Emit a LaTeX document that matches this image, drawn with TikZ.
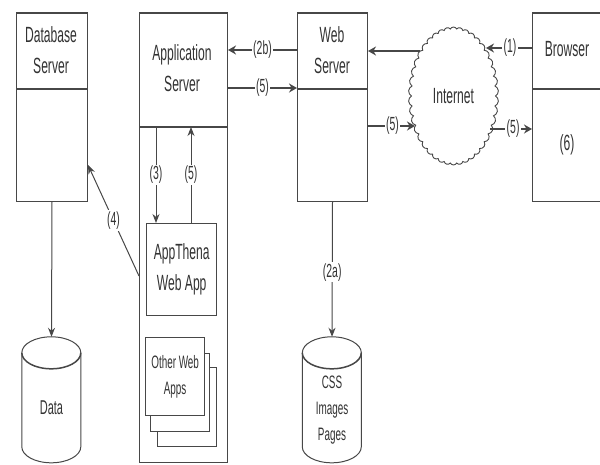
\documentclass[tikz,border=0pt]{standalone}
\usepackage{fontspec}
\setmainfont[FakeStretch=0.55]{Liberation Sans}
\usetikzlibrary{arrows.meta,shapes.symbols}
\colorlet{ink}{black!72}
\newcommand{\fbig}{\fontsize{22}{31}\selectfont}
\newcommand{\flab}{\fontsize{19}{20}\selectfont}
\newcommand{\fsml}{\fontsize{18}{26}\selectfont}
\newcommand{\storeshape}[1]{%
  \draw[draw=ink,line width=1pt,fill=white] (#1.north west) ++(0,16)
    arc[start angle=180,end angle=0,x radius=29.5pt,y radius=16pt]
    -- ++(0,94)
    arc[start angle=0,end angle=-180,x radius=29.5pt,y radius=16pt]
    -- cycle;
  \draw[draw=ink,line width=1.5pt] (#1.north west) ++(0,16)
    arc[start angle=180,end angle=360,x radius=29.5pt,y radius=16pt];
}
\tikzset{
  box/.style={draw=ink,line width=1pt,fill=white,inner sep=0pt,anchor=north west},
  bar/.style={draw=ink,line width=2pt},
  stor/.style={inner sep=0pt,minimum width=59pt,minimum height=126pt},
  conn/.style={draw=ink,line width=1pt,-{Stealth[length=9pt,width=7pt]}},
  heavy/.style={draw=ink,line width=2pt,-{Stealth[length=8pt,width=9pt]}},
  lab/.style={fill=white,inner sep=1.5pt,font=\flab},
  title/.style={align=center,font=\fbig},
}
\begin{document}
\begin{tikzpicture}[x=1pt,y=-1pt,text=black!80]
\clip (0,0) rectangle (600,464);
% servers
\node[box,minimum width=71pt,minimum height=75pt] (dbhead) at (16,13) {};
\node[box,minimum width=71pt,minimum height=113pt] (dbbody) at (16,88) {};
\node[box,minimum width=88pt,minimum height=113pt] (apphead) at (139,13) {};
\node[box,minimum width=88pt,minimum height=336pt] (appbody) at (139,126) {};
\node[box,minimum width=70pt,minimum height=75pt] (webhead) at (297,13) {};
\node[box,minimum width=70pt,minimum height=113pt] (webbody) at (297,88) {};
\node[box,minimum width=70pt,minimum height=75pt] (brhead) at (532,13) {};
\node[box,minimum width=70pt,minimum height=113pt] (brbody) at (532,88) {};
\foreach \h in {dbhead,apphead,webhead,brhead}{
  \draw[bar] (\h.north west) -- (\h.north east);
  \draw[bar] (\h.south west) -- (\h.south east);
}
\node[title] (dbtxt) at (51,50) {Database\\Server};
\node[title] (apptxt) at (182,68) {Application\\Server};
\node[title] (webtxt) at (332,50) {Web\\Server};
\node[title] (brtxt) at (567,49) {Browser};
\node[title] (six) at (567,145) {(6)};
% inner application boxes
\node[box,minimum width=70pt,minimum height=92pt,line width=1.4pt,align=center,font=\fbig] (thena) at (146,223) {AppThena\\Web App};
\node[box,minimum width=59pt,minimum height=79pt,line width=1.3pt] (oth3) at (157,367) {};
\node[box,minimum width=59pt,minimum height=78pt,line width=1.3pt] (oth2) at (150,353) {};
\node[box,minimum width=59pt,minimum height=78pt,line width=1.3pt,align=center,font=\fsml] (oth1) at (145,337) {Other Web\\Apps};
% cloud
\node[cloud,cloud puffs=42,cloud puff arc=130,cloud ignores aspect,draw=ink,line width=.9pt,fill=white,minimum width=90pt,minimum height=138pt,inner sep=0pt,font=\fbig] (inet) at (453.5,96) {Internet};
% stores
\node[stor] (data) at (51.5,400) {};
\storeshape{data}
\node[title,font=\fontsize{20}{26}\selectfont] (datatxt) at (data.center |- 0,408) {Data};
\node[stor] (css) at (332,400) {};
\storeshape{css}
\node[title,font=\fsml] (csstxt) at (css.center |- 0,410) {CSS\\Images\\Pages};
% connectors
\coordinate (inetW) at (420,51);
\coordinate (inetE) at (486,48);
\coordinate (inetIn) at (415,126);
\coordinate (inetOut) at (490,129);
\draw[heavy] (webhead.west |- 0,50) -- (apphead.east |- 0,50) node[lab,pos=.5] {(2b)};
\draw[heavy] (apphead.east |- 0,88) -- (webhead.west |- 0,88) node[lab,pos=.5] {(5)};
\draw[heavy] (inetW) -- (webhead.east |- inetW);
\draw[heavy] (brhead.west |- inetE) -- (inetE) node[lab,pos=.48] {(1)};
\draw[heavy] (webbody.east |- inetIn) -- (inetIn) node[lab,pos=.52] {(5)};
\draw[heavy] (inetOut) -- (brbody.west |- inetOut) node[lab,pos=.55] {(5)};
\draw[conn] (apphead.south west -| 156,0) -- (thena.north west -| 156,0) node[lab,pos=.5] {(3)};
\draw[conn] (thena.north west -| 191,0) -- (apphead.south west -| 191,0) node[lab,pos=.5] {(5)};
\draw[conn] (appbody.west |- 0,276) -- (dbbody.east |- 0,165) node[lab,pos=.5] {(4)};
\draw[conn] (dbbody.south) -- (data.north);
\draw[conn] (webbody.south) -- (css.north) node[lab,pos=.52] {(2a)};
\end{tikzpicture}
\end{document}
